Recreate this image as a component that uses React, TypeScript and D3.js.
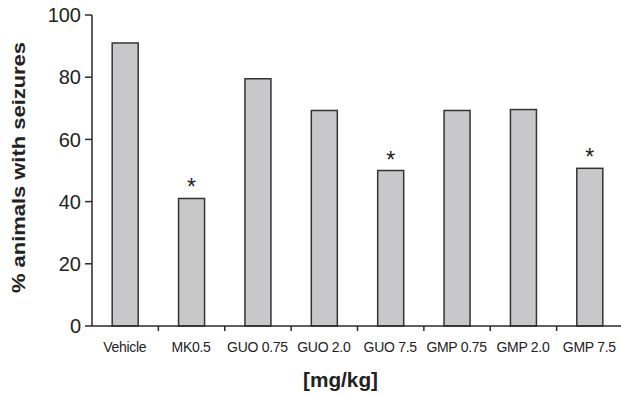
import React from "react";
import * as d3 from "d3";

const categories = ["Vehicle", "MK0.5", "GUO 0.75", "GUO 2.0", "GUO 7.5", "GMP 0.75", "GMP 2.0", "GMP 7.5"];
const values = [91, 41, 79.5, 69.3, 50, 69.3, 69.6, 50.7];
const significant = [false, true, false, false, true, false, false, true];
const yTicks = [0, 20, 40, 60, 80, 100];

const W = 621;
const H = 395;
const left = 92;
const right = 623;
const top = 15;
const bottom = 326;
const font = "'Liberation Sans', Arial, Helvetica, sans-serif";

export default function App() {
  const xStep = d3.scaleBand<string>().domain(categories).range([left, right]);
  const y = d3.scaleLinear().domain([0, 100]).range([bottom, top]);
  const axisColor = "#2a2a2a";
  const barW = 26;

  return (
    <svg width={W} height={H} style={{ position: "absolute", left: 0, top: 0, background: "#fff" }}>
      {categories.map((c, i) => {
        const bx = xStep(c)! + (xStep.bandwidth() - barW) / 2;
        return (
          <g key={c}>
            <rect x={bx} y={y(values[i])} width={barW} height={bottom - y(values[i])}
              fill="#c8c8ca" stroke="#333" strokeWidth={1.5} />
            {significant[i] && (
              <text x={bx + barW / 2} y={y(values[i]) - 3} textAnchor="middle" fontFamily={font}
                fontSize={23} fill="#222">*</text>
            )}
          </g>
        );
      })}
      <line x1={left} x2={left} y1={top} y2={bottom} stroke={axisColor} strokeWidth={1.5} />
      {yTicks.map((t) => (
        <g key={t}>
          <line x1={left - 7} x2={left} y1={y(t)} y2={y(t)} stroke={axisColor} strokeWidth={1.5} />
          <text x={left - 11} y={y(t)} dy="0.36em" textAnchor="end" fontFamily={font} fontSize={20} fill="#222">{t}</text>
        </g>
      ))}
      <line x1={left} x2={W} y1={bottom} y2={bottom} stroke={axisColor} strokeWidth={1.5} />
      {categories.map((c, i) => (
        <g key={c}>
          {i > 0 && (
            <line x1={xStep(c)!} x2={xStep(c)!} y1={bottom} y2={bottom + 5} stroke={axisColor} strokeWidth={1.5} />
          )}
          <text x={xStep(c)! + xStep.bandwidth() / 2 - 0.5} y={352} textAnchor="middle" fontFamily={font}
            fontSize={14} fill="#222" letterSpacing={-0.3}>{c}</text>
        </g>
      ))}
      <text transform={`translate(25,167.5) rotate(-90)`} textAnchor="middle" fontFamily={font}
        fontSize={19} fontWeight="bold" fill="#222" textLength={251} lengthAdjust="spacingAndGlyphs">% animals with seizures</text>
      <text x={340.5} y={387} textAnchor="middle" fontFamily={font} fontSize={19.5} fontWeight="bold" fill="#222"
        textLength={75} lengthAdjust="spacingAndGlyphs">[mg/kg]</text>
    </svg>
  );
}
